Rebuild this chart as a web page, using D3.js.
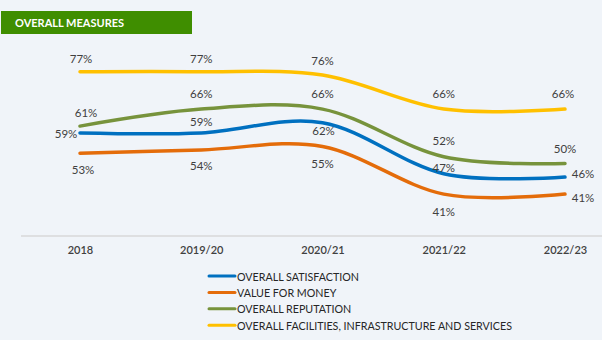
<!DOCTYPE html>
<html>
<head>
<meta charset="utf-8">
<script src="https://cdn.jsdelivr.net/npm/d3@7"></script>
<style>
  body { margin: 0; background: #f0f4f9; }
  svg { display: block; font-family: Lato, "Open Sans", sans-serif; }
</style>
</head>
<body>
<svg></svg>
<script>
const years = ["2018", "2019/20", "2020/21", "2021/22", "2022/23"];
const seriesNames = [
  "OVERALL SATISFACTION",
  "VALUE FOR MONEY",
  "OVERALL REPUTATION",
  "OVERALL FACILITIES, INFRASTRUCTURE AND SERVICES"
];
const satisfaction = [59, 59, 62, 47, 46];
const valueForMoney = [53, 54, 55, 41, 41];
const reputation = [61, 66, 66, 52, 50];
const facilities = [77, 77, 76, 66, 66];

const colors = ["#0070c0", "#e46c0a", "#77933c", "#ffc000"];

// label offsets [dx, dy] from each point (layout only)
const labelOffsets = [
  [[-14, 1], [0, -11], [1, 8], [0, -6], [18, -4]],
  [[3, 16], [0, 16], [0, 16.5], [0, 17], [18, 3]],
  [[6, -14], [0, -16], [0, -16], [0, -16], [0, -15.5]],
  [[1, -13], [0, -13], [0, -15], [0, -16], [-2, -16]]
];

const width = 602, height = 340;
const svg = d3.select("svg").attr("width", width).attr("height", height);

const series = [satisfaction, valueForMoney, reputation, facilities].map((values, i) => ({
  name: seriesNames[i],
  color: colors[i],
  values: values,
  offsets: labelOffsets[i]
}));

const x = d3.scalePoint().domain(years).range([80, 565]);
const y = d3.scaleLinear().domain([41, 77]).range([194.1, 71.7]);

// title box
svg.append("rect")
  .attr("x", 1).attr("y", 11).attr("width", 191).attr("height", 23)
  .attr("fill", "#3f8e00");
svg.append("text")
  .attr("x", 15).attr("y", 27)
  .attr("fill", "#fff")
  .attr("font-weight", 700)
  .attr("font-size", 11)
  .text("OVERALL MEASURES");

// x axis
const axisY = 236;
const xAxis = d3.axisBottom(x).tickSize(0).tickPadding(10);
const xAxisG = svg.append("g")
  .attr("transform", `translate(0,${axisY})`)
  .call(xAxis);
xAxisG.select(".domain").remove();
xAxisG.append("line")
  .attr("x1", 21).attr("x2", 602)
  .attr("stroke", "#d9d9d9").attr("stroke-width", 1.5);
xAxisG.selectAll(".tick text")
  .attr("font-size", 11)
  .attr("font-family", "Lato, sans-serif")
  .attr("font-weight", 600)
  .attr("fill", "#404040");

const line = d3.line()
  .x((d, i) => x(years[i]))
  .y(d => y(d))
  .curve(d3.curveCatmullRom.alpha(0));

// draw back to front: facilities, reputation, value, satisfaction
const drawOrder = [3, 2, 1, 0];
drawOrder.forEach(k => {
  const s = series[k];
  svg.append("path")
    .attr("d", line(s.values))
    .attr("fill", "none")
    .attr("stroke", s.color)
    .attr("stroke-width", 3.5)
    .attr("stroke-linecap", "round");
});

series.forEach(s => {
  svg.append("g").selectAll("text")
    .data(s.values)
    .enter()
    .append("text")
    .attr("x", (d, i) => x(years[i]) + s.offsets[i][0])
    .attr("y", (d, i) => y(d) + s.offsets[i][1])
    .attr("text-anchor", "middle")
    .attr("dominant-baseline", "central")
    .attr("font-size", 11.5)
    .attr("fill", "#404040")
    .text(d => d + "%");
});

// legend
const legend = svg.append("g").attr("transform", "translate(209,276)");
const rows = legend.selectAll("g")
  .data(series)
  .enter()
  .append("g")
  .attr("transform", (d, i) => `translate(0,${i * 16.4})`);
rows.append("line")
  .attr("x1", 0).attr("x2", 26)
  .attr("stroke", d => d.color)
  .attr("stroke-width", 3)
  .attr("stroke-linecap", "round");
rows.append("text")
  .attr("x", 28)
  .attr("dominant-baseline", "central")
  .attr("font-size", 10.7)
  .attr("fill", "#262626")
  .text(d => d.name);
</script>
</body>
</html>
